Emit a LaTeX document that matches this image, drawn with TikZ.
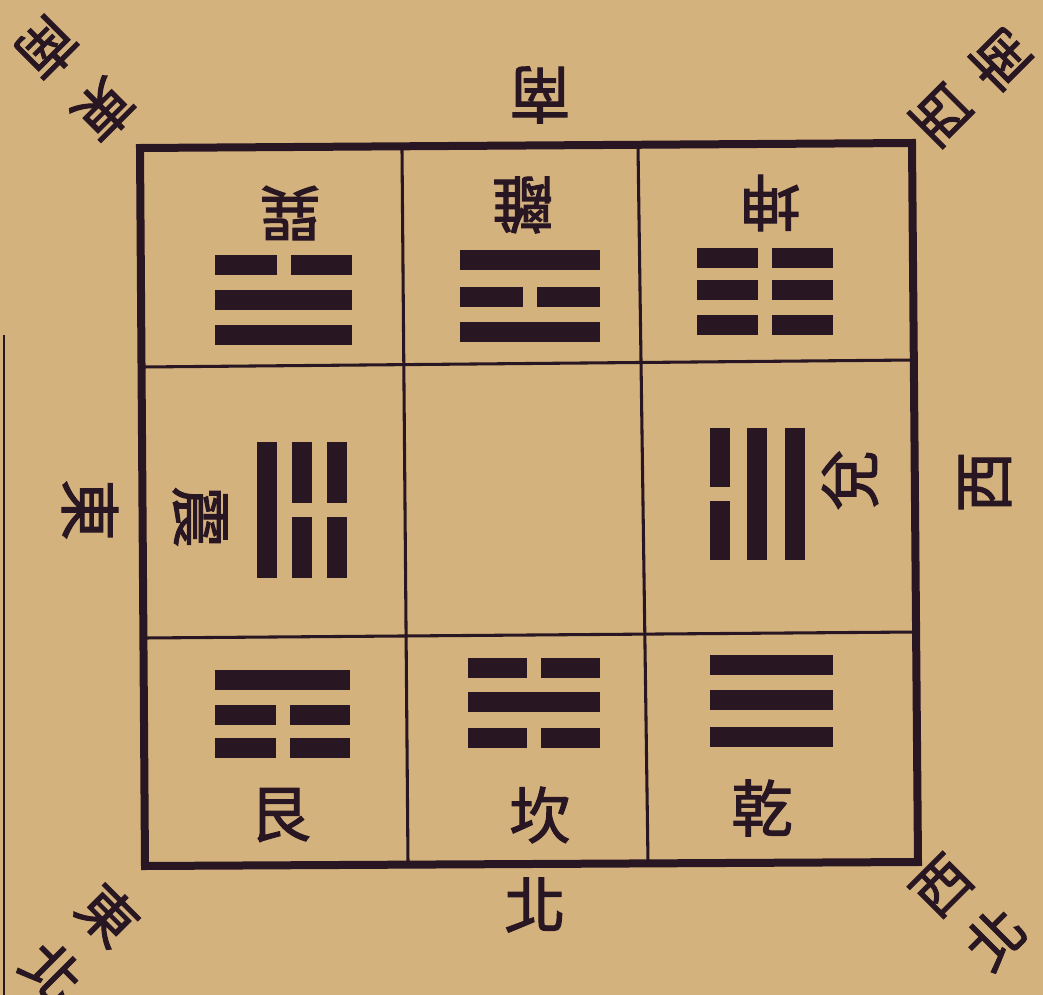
\documentclass[tikz,border=0pt]{standalone}
\usepackage{fontspec}
\newfontfamily\cjk[FakeBold=1.8]{Noto Sans CJK TC}
\definecolor{paper}{RGB}{212,178,126}
\definecolor{ink}{RGB}{40,22,34}
\newcommand\hyang[3]{\fill[ink] (#1,#3-10) rectangle (#2,#3+10);}
\newcommand\hyin[3]{\fill[ink] (#1,#3-10) rectangle ({(#1+#2)/2-7},#3+10);
  \fill[ink] ({(#1+#2)/2+7},#3-10) rectangle (#2,#3+10);}
\newcommand\vyang[3]{\fill[ink] (#3-10,#1) rectangle (#3+10,#2);}
\newcommand\vyin[3]{\fill[ink] (#3-10,#1) rectangle (#3+10,{(#1+#2)/2-7});
  \fill[ink] (#3-10,{(#1+#2)/2+7}) rectangle (#3+10,#2);}
\begin{document}
\begin{tikzpicture}[x=0.75pt,y=-0.75pt,
  ch/.style={font=\cjk\fontsize{46}{46}\selectfont, text=ink, inner sep=0pt},
  cornerch/.style={font=\cjk\fontsize{43}{43}\selectfont, text=ink, inner sep=0pt},
  frame/.style={draw=ink, line width=6pt, line join=miter},
  gridline/.style={draw=ink, line width=2.3pt}]
\fill[paper] (0,0) rectangle (1043,995);
\useasboundingbox (0,0) rectangle (1043,995);
% page edge
\draw[ink, line width=1.2pt] (4,335) -- (4,995);
% outer frame and grid
\draw[frame] (140,148) -- (912,143) -- (918,862) -- (145,866) -- cycle;
\draw[gridline] (402,150) -- (408,863);
\draw[gridline] (638,146) -- (648,862);
\draw[gridline] (142,367) -- (915,360);
\draw[gridline] (144,638) -- (917,632);
% top row (upside down)
\hyin{215}{352}{265} \hyang{215}{352}{300} \hyang{215}{352}{335}
\hyang{460}{600}{260} \hyin{460}{600}{297} \hyang{460}{600}{332}
\hyin{697}{833}{258} \hyin{697}{833}{290} \hyin{697}{833}{325}
\node[ch, rotate=180] (xun) at (290,213) {巽};
\node[ch, rotate=180] (li) at (523,205) {離};
\node[ch, rotate=180] (kun) at (770,203) {坤};
% middle row
\vyang{442}{578}{267} \vyin{442}{578}{302} \vyin{442}{578}{337}
\vyin{428}{560}{720} \vyang{428}{560}{757} \vyang{428}{560}{795}
\node[ch, rotate=-90] (zhen) at (200,517) {震};
\node[ch, rotate=90] (dui) at (850,480) {兌};
% bottom row
\hyang{215}{350}{680} \hyin{215}{350}{715} \hyin{215}{350}{748}
\hyin{468}{600}{668} \hyang{468}{600}{702} \hyin{468}{600}{738}
\hyang{710}{833}{665} \hyang{710}{833}{700} \hyang{710}{833}{737}
\node[ch] (gen) at (280,815) {艮};
\node[ch] (kan) at (540,815) {坎};
\node[ch] (qian) at (762,808) {乾};
% directions
\node[ch, rotate=180] (south) at (540,95) {南};
\node[ch] (north) at (535,905) {北};
\node[ch, rotate=-90] (east) at (90,510) {東};
\node[ch, rotate=90] (west) at (985,482) {西};
\node[cornerch, rotate=-135] (se1) at (104,110) {東};
\node[cornerch, rotate=-135] (se2) at (47,48) {南};
\node[cornerch, rotate=135] (sw1) at (942,114) {西};
\node[cornerch, rotate=135] (sw2) at (1000,60) {南};
\node[cornerch, rotate=-45] (ne1) at (108,915) {東};
\node[cornerch, rotate=-45] (ne2) at (52,972) {北};
\node[cornerch, rotate=45] (nw1) at (942,886) {西};
\node[cornerch, rotate=45] (nw2) at (995,938) {北};
\end{tikzpicture}
\end{document}
